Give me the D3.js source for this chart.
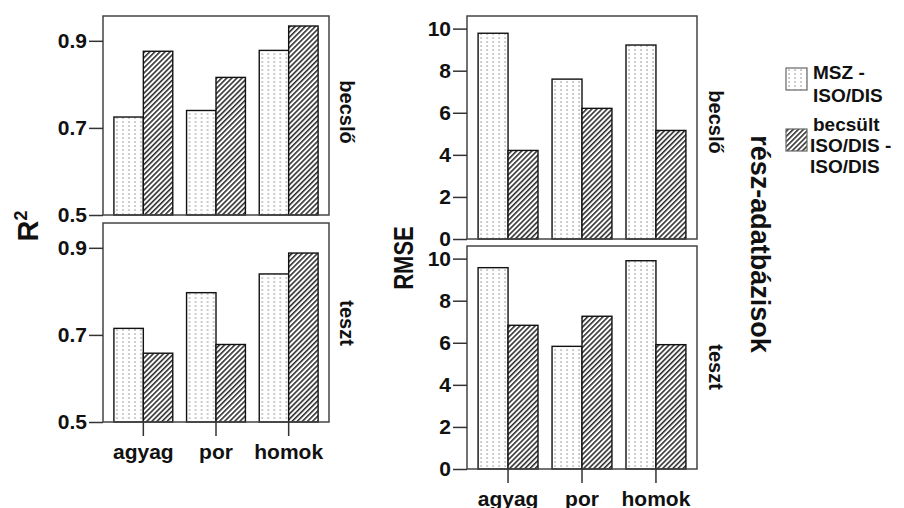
<!DOCTYPE html>
<html>
<head>
<meta charset="utf-8">
<script src="https://cdn.jsdelivr.net/npm/d3@7"></script>
<style>
  body { margin: 0; background: #fff; }
  text { font-family: "Liberation Sans", Arial, sans-serif; font-weight: bold; fill: #111; }
</style>
</head>
<body>
<svg id="chart" width="904" height="508"></svg>
<script>
// data
var CATEGORIES = ["agyag", "por", "homok"];
var SERIES = ["MSZ - ISO/DIS", "becsült ISO/DIS - ISO/DIS"];
var R2_BECSLO_MSZ = [0.725, 0.740, 0.878];
var R2_BECSLO_BECS = [0.876, 0.816, 0.934];
var R2_TESZT_MSZ = [0.715, 0.797, 0.840];
var R2_TESZT_BECS = [0.658, 0.678, 0.888];
var RMSE_BECSLO_MSZ = [9.78, 7.60, 9.22];
var RMSE_BECSLO_BECS = [4.21, 6.21, 5.16];
var RMSE_TESZT_MSZ = [9.57, 5.83, 9.90];
var RMSE_TESZT_BECS = [6.83, 7.26, 5.91];
var R2_TICKS = [0.5, 0.7, 0.9];
var RMSE_TICKS = [0, 2, 4, 6, 8, 10];
var PANEL_LABELS = ["becslő", "teszt"];

var svg = d3.select("#chart");

// fill patterns
var defs = svg.append("defs");
var dots = defs.append("pattern")
    .attr("id", "dots")
    .attr("patternUnits", "userSpaceOnUse")
    .attr("width", 6).attr("height", 4);
dots.append("rect").attr("width", 6).attr("height", 4).attr("fill", "#fff");
dots.append("rect").attr("x", 2.4).attr("y", 1.4).attr("width", 1.3).attr("height", 1.3).attr("fill", "#8a8a8a");

var hatch = defs.append("pattern")
    .attr("id", "hatch")
    .attr("patternUnits", "userSpaceOnUse")
    .attr("width", 3.6).attr("height", 10)
    .attr("patternTransform", "rotate(45)");
hatch.append("rect").attr("width", 3.6).attr("height", 10).attr("fill", "#fff");
hatch.append("line").attr("x1", 0.8).attr("x2", 0.8).attr("y1", 0).attr("y2", 10)
    .attr("stroke", "#222").attr("stroke-width", 1.5);

var FILLS = ["url(#dots)", "url(#hatch)"];

function drawPanel(x0, x1, y0, y1, domain, ticks, fmt, mszVals, becsVals, showCats) {
    var xScale = d3.scaleBand()
        .domain(CATEGORIES)
        .range([x0, x1])
        .paddingInner(0.19)
        .paddingOuter(0.15);
    var xSub = d3.scaleBand()
        .domain([0, 1])
        .range([0, xScale.bandwidth()]);
    var yScale = d3.scaleLinear()
        .domain(domain)
        .range([y1, y0]);

    var rows = CATEGORIES.map((c, i) => ({cat: c, vals: [mszVals[i], becsVals[i]]}));

    var g = svg.append("g");
    var groups = g.selectAll("g.grp")
        .data(rows)
        .enter().append("g")
        .attr("transform", d => `translate(${xScale(d.cat)},0)`);
    groups.selectAll("rect")
        .data(d => d.vals)
        .enter().append("rect")
        .attr("x", (d, i) => xSub(i))
        .attr("width", xSub.bandwidth())
        .attr("y", d => yScale(d))
        .attr("height", d => yScale(domain[0]) - yScale(d))
        .attr("fill", (d, i) => FILLS[i])
        .attr("stroke", "#111")
        .attr("stroke-width", 1.4);

    // frame
    g.append("rect")
        .attr("x", x0).attr("y", y0)
        .attr("width", x1 - x0).attr("height", y1 - y0)
        .attr("fill", "none")
        .attr("stroke", "#444")
        .attr("stroke-width", 1.5);

    var yAxis = d3.axisLeft(yScale)
        .tickValues(ticks)
        .tickFormat(fmt)
        .tickSize(14)
        .tickSizeOuter(0)
        .tickPadding(2);
    var ya = g.append("g")
        .attr("transform", `translate(${x0},0)`)
        .call(yAxis);
    ya.select(".domain").remove();
    ya.selectAll("line").attr("stroke", "#333").attr("stroke-width", 1.5);
    ya.selectAll("text").style("font-size", "21px").attr("fill", "#111");

    if (showCats) {
        var xAxis = d3.axisBottom(xScale)
            .tickSize(14)
            .tickSizeOuter(0)
            .tickPadding(8);
        var xa = g.append("g")
            .attr("transform", `translate(0,${y1})`)
            .call(xAxis);
        xa.select(".domain").remove();
        xa.selectAll("line").attr("stroke", "#333").attr("stroke-width", 1.5);
        xa.selectAll("text").style("font-size", "21px").attr("fill", "#111");
    }
}

// left: R2
drawPanel(103, 329, 16, 215, [0.5, 0.957], R2_TICKS, d3.format(".1f"), R2_BECSLO_MSZ, R2_BECSLO_BECS, false);
drawPanel(103, 329, 223, 422, [0.5, 0.957], R2_TICKS, d3.format(".1f"), R2_TESZT_MSZ, R2_TESZT_BECS, true);
// right: RMSE
drawPanel(467, 697, 16, 239, [0, 10.6], RMSE_TICKS, d3.format("d"), RMSE_BECSLO_MSZ, RMSE_BECSLO_BECS, false);
drawPanel(467, 697, 246, 469, [0, 10.6], RMSE_TICKS, d3.format("d"), RMSE_TESZT_MSZ, RMSE_TESZT_BECS, true);

// panel labels (rotated, reading downwards)
function sideLabel(txt, x, y, size) {
    svg.append("text")
        .attr("transform", `translate(${x},${y}) rotate(90)`)
        .attr("text-anchor", "middle")
        .style("font-size", size + "px")
        .text(txt);
}
sideLabel(PANEL_LABELS[0], 340, 112, 20);
sideLabel(PANEL_LABELS[1], 340, 323, 20);
sideLabel(PANEL_LABELS[0], 709, 122, 20);
sideLabel(PANEL_LABELS[1], 709, 367, 20);
sideLabel("rész-adatbázisok", 751, 244, 27);

// y titles
var r2 = svg.append("text")
    .attr("transform", "translate(38,226) rotate(-90)")
    .attr("text-anchor", "middle")
    .style("font-size", "29px");
r2.append("tspan").text("R");
r2.append("tspan").attr("dy", -11).style("font-size", "18px").text("2");

svg.append("text")
    .attr("transform", "translate(413,258) rotate(-90) scale(1,1.25)")
    .attr("text-anchor", "middle")
    .style("font-size", "22px")
    .text("RMSE");

// legend
var legendLines = [["MSZ -", "ISO/DIS"], ["becsült", "ISO/DIS -", "ISO/DIS"]];
var legendTop = [68, 129];
legendLines.forEach((lines, i) => {
    svg.append("rect")
        .attr("x", 786).attr("y", legendTop[i])
        .attr("width", 21).attr("height", 22)
        .attr("fill", FILLS[i])
        .attr("stroke", "#666")
        .attr("stroke-width", 1.2);
    var t = svg.append("text")
        .attr("x", 813)
        .attr("y", legendTop[i] + 10 - (lines.length - 2) * 0 )
        .style("font-size", "19px");
    lines.forEach((l, j) => {
        t.append("tspan")
            .attr("x", i === 0 ? 813 : (j === 0 ? 813 : 810))
            .attr("y", (i === 0 ? 79 : 131) + j * (i === 0 ? 23 : 21))
            .text(l);
    });
});
</script>
</body>
</html>
